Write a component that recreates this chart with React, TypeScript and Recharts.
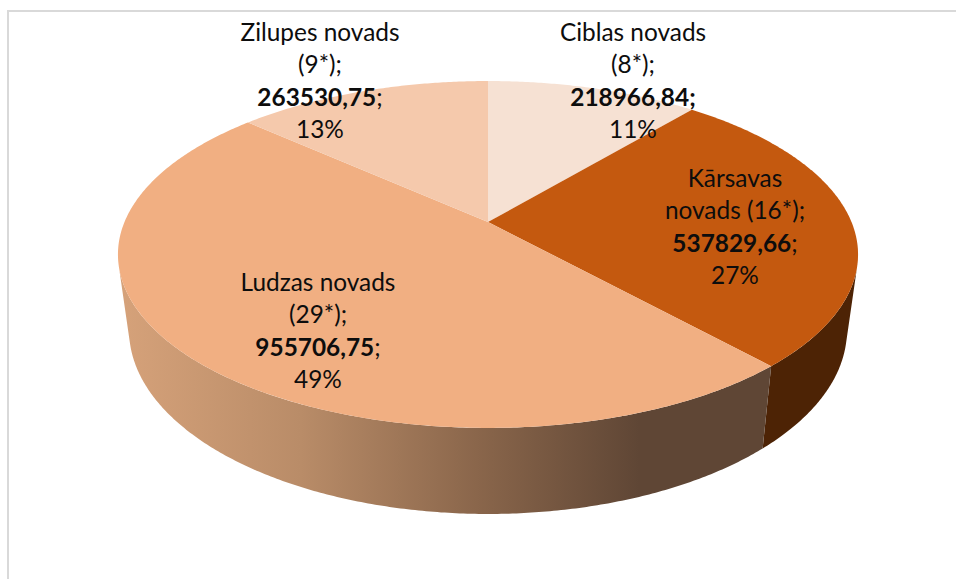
import { PieChart, Pie, Cell } from "recharts";

const REGIONS = ["Ciblas novads", "Kārsavas novads", "Ludzas novads", "Zilupes novads"];
const VALUES = [218966.84, 537829.66, 955706.75, 263530.75];
const NAME_LINES = [
  ["Ciblas novads", "(8*);"],
  ["Kārsavas", "novads (16*);"],
  ["Ludzas novads", "(29*);"],
  ["Zilupes novads", "(9*);"],
];
const VALUE_LABELS = ["218966,84", "537829,66", "955706,75", "263530,75"];
const PERCENTS = ["11%", "27%", "49%", "13%"];

const TOP_COLORS = ["#F6E1D3", "#C4590F", "#F1AF82", "#F5C9AC"];
const WALL_COLORS = ["#F6E1D3", "#4D2305", "url(#ludzasWall)", "#F5C9AC"];

// label anchor: centre x, baseline of first line
const LABEL_POS = [
  [633, 41],
  [735, 187],
  [318, 291],
  [320, 41],
];
const LINE_STEP = 32.4;

const rows = REGIONS.map((name, i) => ({ name, value: VALUES[i] }));

// perspective of the tilted disc: c = foreshortening, the rest are px on screen
const PERSP = -0.1873;
const TOP_Y_SCALE = 0.346; // of the radius
const BOTTOM_X = 0.97;
const BOTTOM_Y_SCALE = 0.3356;
const BOTTOM_DROP = 73.7;
// angles (clockwise from 12 o'clock) where the side wall turns out of sight
const WALL_FROM = 105;
const WALL_TO = 255;

function project(cx: number, cy: number, r: number, deg: number, bottom: boolean) {
  const a = (deg * Math.PI) / 180;
  const u = Math.sin(a);
  const v = -Math.cos(a);
  const den = 1 + PERSP * v;
  if (bottom) {
    return [cx + (r * BOTTOM_X * u) / den, (r * BOTTOM_Y_SCALE * v + cy + BOTTOM_DROP) / den];
  }
  return [cx + (r * u) / den, (r * TOP_Y_SCALE * v + cy) / den];
}

function arc(cx: number, cy: number, r: number, from: number, to: number, bottom: boolean) {
  const pts: string[] = [];
  const n = Math.max(2, Math.ceil(Math.abs(to - from) * 2));
  for (let i = 0; i <= n; i++) {
    const p = project(cx, cy, r, from + ((to - from) * i) / n, bottom);
    pts.push(`${p[0].toFixed(2)} ${p[1].toFixed(2)}`);
  }
  return pts;
}

function TopFace(props: any) {
  const { cx, cy, outerRadius, startAngle, endAngle, fill } = props;
  const pts = arc(cx, cy, outerRadius, 90 - startAngle, 90 - endAngle, false);
  return <path d={`M${cx} ${cy}L${pts.join("L")}Z`} fill={fill} stroke="none" />;
}

function SideWall(props: any) {
  const { cx, cy, outerRadius, startAngle, endAngle, fill } = props;
  const from = Math.max(90 - startAngle, WALL_FROM);
  const to = Math.min(90 - endAngle, WALL_TO);
  if (to <= from) return <g />;
  const top = arc(cx, cy, outerRadius, from, to, false);
  const bot = arc(cx, cy, outerRadius, from, to, true).reverse();
  return <path d={`M${top.join("L")}L${bot.join("L")}Z`} fill={fill} stroke="none" />;
}

function SliceLabel(props: any) {
  const i = props.index;
  const [x, y] = LABEL_POS[i];
  return (
    <text x={x} y={y} textAnchor="middle" fontFamily="Lato, sans-serif" fontSize={24.4} fill="#0d0d0d">
      <tspan x={x}>{NAME_LINES[i][0]}</tspan>
      <tspan x={x} dy={LINE_STEP}>{NAME_LINES[i][1]}</tspan>
      <tspan x={x} dy={LINE_STEP}>
        <tspan fontWeight={700}>{VALUE_LABELS[i]}{i === 0 ? ";" : ""}</tspan>
        {i === 0 ? "" : ";"}
      </tspan>
      <tspan x={x} dy={LINE_STEP}>{PERCENTS[i]}</tspan>
    </text>
  );
}

export default function App() {
  return (
    <div style={{ position: "fixed", left: 0, top: 0, width: 956, height: 579, overflow: "hidden", background: "#fff" }}>
      <div
        style={{
          position: "absolute",
          left: 7,
          top: 10,
          width: 1000,
          height: 700,
          border: "2px solid #d9d9d9",
        }}
      />
      <div style={{ position: "absolute", left: 0, top: 0 }}>
        <PieChart width={956} height={579} margin={{ top: 0, right: 0, bottom: 0, left: 0 }}>
          <defs>
            <linearGradient id="ludzasWall" gradientUnits="userSpaceOnUse" x1={118} y1={0} x2={770} y2={0}>
              <stop offset="0" stopColor="#D6A27A" />
              <stop offset="0.28" stopColor="#B98C68" />
              <stop offset="0.55" stopColor="#8A664B" />
              <stop offset="0.8" stopColor="#5F4635" />
              <stop offset="1" stopColor="#5F4635" />
            </linearGradient>
          </defs>
          <Pie
            data={rows}
            dataKey="value"
            nameKey="name"
            cx={488}
            cy={222}
            innerRadius={0}
            outerRadius={363.5}
            startAngle={90}
            endAngle={-270}
            stroke="none"
            shape={SideWall}
            isAnimationActive={false}
          >
            {rows.map((_r, i) => (
              <Cell key={i} fill={WALL_COLORS[i]} />
            ))}
          </Pie>
          <Pie
            data={rows}
            dataKey="value"
            nameKey="name"
            cx={488}
            cy={222}
            innerRadius={0}
            outerRadius={363.5}
            startAngle={90}
            endAngle={-270}
            stroke="none"
            shape={TopFace}
            label={SliceLabel}
            labelLine={false}
            isAnimationActive={false}
          >
            {rows.map((_r, i) => (
              <Cell key={i} fill={TOP_COLORS[i]} />
            ))}
          </Pie>
        </PieChart>
      </div>
    </div>
  );
}
